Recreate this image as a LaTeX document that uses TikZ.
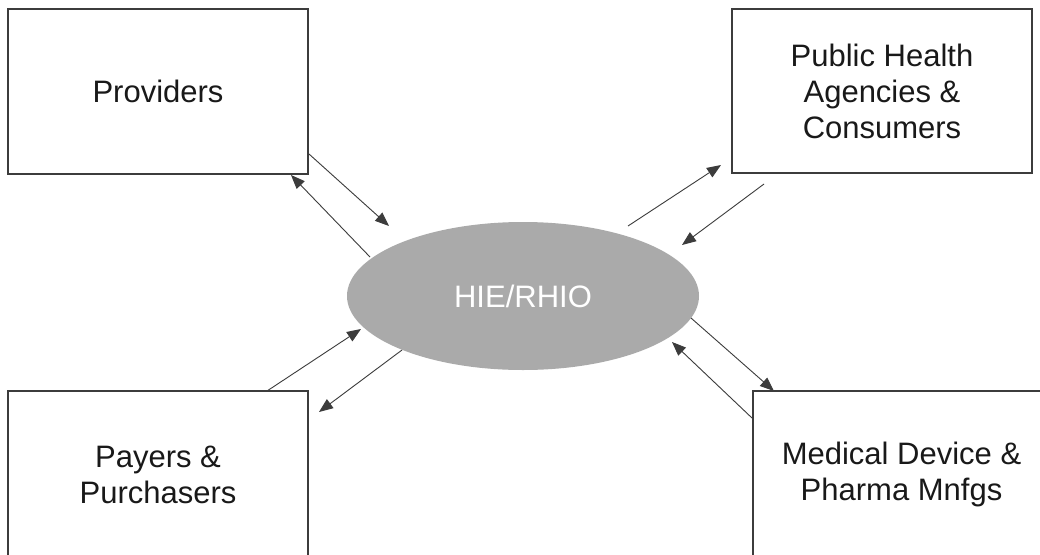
\documentclass[tikz,border=0pt]{standalone}
\usepackage{fontspec}
\setmainfont{Liberation Sans}
\usetikzlibrary{arrows.meta,shapes.geometric}

\definecolor{hubfill}{RGB}{170,170,170}
\definecolor{edgeline}{RGB}{60,60,60}
\definecolor{labeltext}{RGB}{25,25,25}

\tikzset{
  party/.style={draw=edgeline, line width=1.3pt, fill=white, rectangle,
    inner sep=0pt, minimum width=300pt, align=center, text=labeltext,
    font=\fontsize{31}{36}\selectfont},
  hub/.style={ellipse, fill=hubfill, draw=none, inner sep=0pt,
    minimum width=352pt, minimum height=148pt, text=white,
    font=\fontsize{31}{36}\selectfont},
  flow/.style={draw=edgeline, line width=0.9pt,
    -{Triangle[length=14pt,width=11pt]}}
}

\begin{document}
\begin{tikzpicture}[x=1pt,y=-1pt]
  \useasboundingbox (0,0) rectangle (1040,554);
  \clip (0,0) rectangle (1040,554);
  \fill[white] (0,0) rectangle (1040,554);

  % stakeholder boxes (the lower two run past the page edge)
  \node[party, minimum height=165pt] (prov) at (158,91.5) {Providers};
  \node[party, minimum height=164pt] (pub) at (882,91)
    {Public Health\\Agencies \&\\Consumers};
  \node[party, minimum height=167pt] (pay) at (158,474.5)
    {Payers \&\\Purchasers};
  \node[party, minimum width=297pt, minimum height=167pt] (med) at (901.5,474.5)
    {Medical Device \&\\Pharma Mnfgs};

  % exchange hub
  \node[hub] (hie) at (523,296) {HIE/RHIO};

  % arrow end points
  \coordinate (prov-out) at (309,154);
  \coordinate (hie-in-prov) at (389,226);
  \coordinate (hie-out-prov) at (370,257);
  \coordinate (prov-in) at (291,175);

  \coordinate (hie-out-pub) at (628,226);
  \coordinate (pub-in) at (721,165);
  \coordinate (pub-out) at (764,184);
  \coordinate (hie-in-pub) at (682,245);

  \coordinate (pay-out) at (267,391);
  \coordinate (hie-in-pay) at (361,329);
  \coordinate (hie-out-pay) at (402,350);
  \coordinate (pay-in) at (319,412);

  \coordinate (hie-out-med) at (691,318);
  \coordinate (med-in) at (774,391);
  \coordinate (med-out) at (752,418);
  \coordinate (hie-in-med) at (672,342);

  % two-way flows between the hub and each party
  \draw[flow] (prov-out) -- (hie-in-prov);
  \draw[flow] (hie-out-prov) -- (prov-in);
  \draw[flow] (hie-out-pub) -- (pub-in);
  \draw[flow] (pub-out) -- (hie-in-pub);
  \draw[flow] (pay-out) -- (hie-in-pay);
  \draw[flow] (hie-out-pay) -- (pay-in);
  \draw[flow] (hie-out-med) -- (med-in);
  \draw[flow] (med-out) -- (hie-in-med);
\end{tikzpicture}
\end{document}
